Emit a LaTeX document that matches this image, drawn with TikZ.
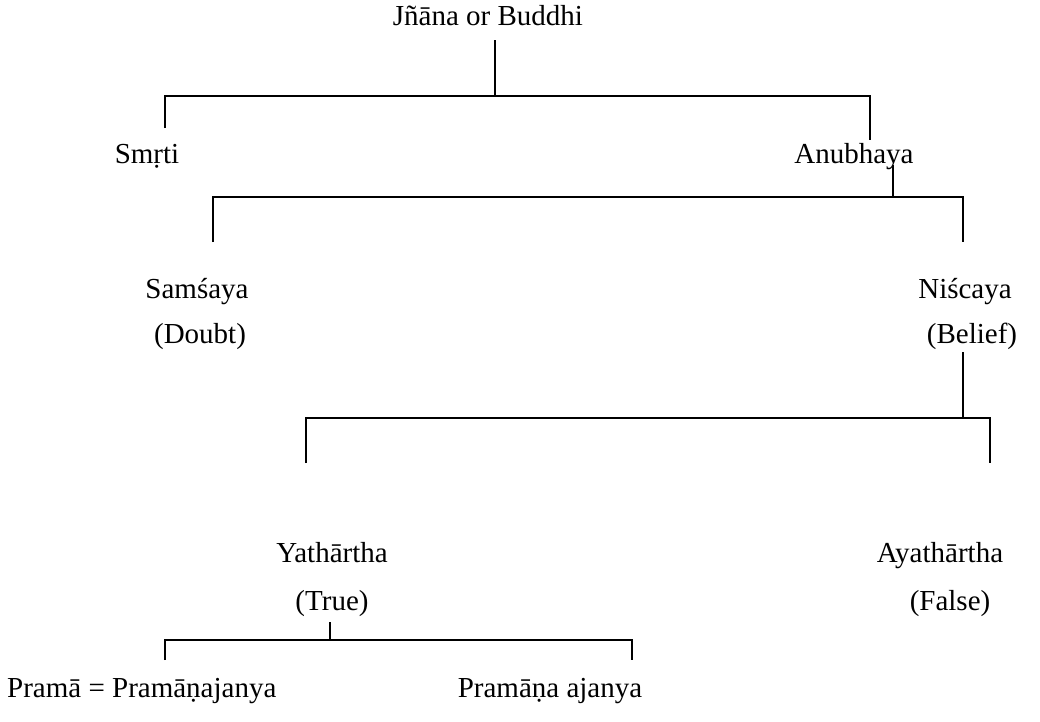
\documentclass[tikz,border=0pt]{standalone}
\usepackage{fontspec}
\setmainfont{Liberation Serif}
\usepackage{tikz}
\usetikzlibrary{positioning}

\begin{document}
\begin{tikzpicture}[
        x=1pt, y=-1pt,
        font=\fontsize{29}{34}\selectfont,
        lbl/.style={inner sep=0pt, anchor=base},
        brk/.style={draw, line width=1.4pt},
      ]
        \useasboundingbox (0,0) rectangle (1040,721);
        % labels
        \node[lbl] (jnana) at (488,25) {Jñāna or Buddhi};
        \node[lbl] (smrti) at (147,163) {Smṛti};
        \node[lbl] (anubhaya) at (854,163) {Anubhaya};
        \node[lbl] (samsaya) at (197,298) {Samśaya};
        \node[lbl] (doubt) at (200,343) {(Doubt)};
        \node[lbl] (niscaya) at (965,298) {Niścaya};
        \node[lbl] (belief) at (972,343) {(Belief)};
        \node[lbl] (yathartha) at (332,562) {Yathārtha};
        \node[lbl] (true) at (332,610) {(True)};
        \node[lbl] (ayathartha) at (940,562) {Ayathārtha};
        \node[lbl] (false) at (950,610) {(False)};
        \node[lbl, anchor=base west] (prama) at (7,697) {Pramā = Pramāṇajanya};
        \node[lbl] (ajanya) at (550,697) {Pramāṇa ajanya};
        % split points
        \coordinate (s1t) at (495,40);  \coordinate (s1m) at (495,96);
        \coordinate (s1l) at (165,128); \coordinate (s1r) at (870,140);
        \coordinate (s2t) at (893,165); \coordinate (s2m) at (893,197);
        \coordinate (s2l) at (213,242); \coordinate (s2r) at (963,242);
        \coordinate (s3t) at (963,352); \coordinate (s3m) at (963,418);
        \coordinate (s3l) at (306,463); \coordinate (s3r) at (990,463);
        \coordinate (s4t) at (330,622); \coordinate (s4m) at (330,640);
        \coordinate (s4l) at (165,660); \coordinate (s4r) at (632,660);
        % brackets
        \draw[brk] (s1t) -- (s1m);
        \draw[brk] (s1l) |- (s1m) -| (s1r);
        \draw[brk] (s2t) -- (s2m);
        \draw[brk] (s2l) |- (s2m) -| (s2r);
        \draw[brk] (s3t) -- (s3m);
        \draw[brk] (s3l) |- (s3m) -| (s3r);
        \draw[brk] (s4t) -- (s4m);
        \draw[brk] (s4l) |- (s4m) -| (s4r);
      \end{tikzpicture}
\end{document}
